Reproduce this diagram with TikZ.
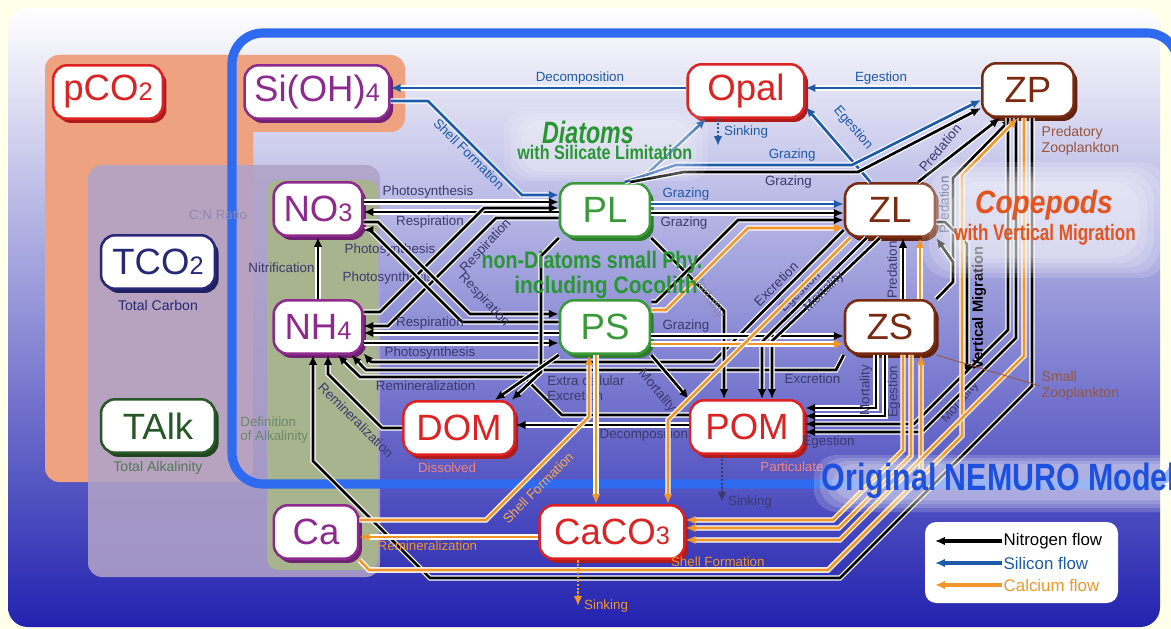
\documentclass[tikz,border=0pt]{standalone}
\usepackage{fontspec}
\setmainfont{Liberation Sans}
\usetikzlibrary{arrows.meta, positioning, calc, shadows}
\usepackage{xcolor}
\definecolor{nmbgyellow}{RGB}{255,255,234}
\definecolor{nmdeep}{RGB}{34,34,176}
\definecolor{nmmid}{RGB}{170,170,226}
\definecolor{nmsalmon}{RGB}{239,162,127}
\definecolor{nmlilac}{RGB}{176,162,200}
\definecolor{nmolive}{RGB}{168,180,142}
\definecolor{nmborder}{RGB}{47,107,240}
\definecolor{nmred}{RGB}{220,34,34}
\definecolor{nmpurple}{RGB}{142,42,142}
\definecolor{nmgreen}{RGB}{58,154,58}
\definecolor{nmbrown}{RGB}{122,42,16}
\definecolor{nmnavy}{RGB}{40,40,120}
\definecolor{nmdkgreen}{RGB}{40,88,40}
\definecolor{nmsi}{RGB}{30,90,170}
\definecolor{nmca}{RGB}{240,150,42}
\definecolor{nmlbl}{RGB}{58,58,108}
\definecolor{nmtitle}{RGB}{30,80,224}
\definecolor{nmcope}{RGB}{228,84,30}
\definecolor{nmdiat}{RGB}{40,150,50}
\newcommand{\lowidx}[1]{{\fontsize{18}{18}\selectfont #1}}
\tikzset{
    pool/.style={draw=#1, line width=1.8pt, fill=white, rounded corners=10pt, text=#1,
                 font=\fontsize{26}{28}\selectfont, minimum height=38pt, inner sep=2pt,
                 drop shadow={shadow xshift=2.6pt, shadow yshift=-3pt, fill=#1!80!black, opacity=1}},
    lbl/.style={font=\fontsize{9.5}{10.5}\selectfont, text=nmlbl, inner sep=1.5pt},
    silbl/.style={lbl, text=nmsi},
    calbl/.style={lbl, text=nmca},
    note/.style={font=\fontsize{10}{11}\selectfont, inner sep=1pt},
    nflow/.style={draw=black, line width=1.9pt, -{Latex[length=7pt, width=6pt]},
                  preaction={draw=white, line width=3.6pt, arrows=-, shorten >=5pt}},
    siflow/.style={nflow, draw=nmsi},
    caflow/.style={nflow, draw=nmca},
    sinkline/.style={line width=1.8pt, densely dotted, -{Latex[length=7pt, width=6pt]}},
    legtxt/.style={font=\fontsize{12}{13}\selectfont, anchor=west, inner sep=1pt},
    bigtxt/.style={inner sep=1pt, font=\bfseries},
}
\begin{document}
\begin{tikzpicture}[x=0.025cm, y=-0.025cm]
    \useasboundingbox (0,0) rectangle (1171,629);
    % background and regions
    \fill[nmbgyellow] (0,0) rectangle (1171,629);
    \shade[top color=white, middle color=nmmid, bottom color=nmdeep, rounded corners=14pt] (8,8) rectangle (1160,627);
    \fill[nmsalmon, rounded corners=10pt] (45,55) rectangle (253,482);
    \fill[nmsalmon, rounded corners=10pt] (45,55) rectangle (405,132);
    \fill[nmlilac, fill opacity=0.88, rounded corners=10pt] (88,165) rectangle (380,577);
    \fill[nmolive, rounded corners=8pt] (267,180) rectangle (378,570);
    \draw[nmborder, line width=6.5pt, rounded corners=22pt] (232,33) rectangle (1178,484);

    % pools
    \node[pool=nmred, minimum width=78pt] (pCO2) at (108,92) {pCO\lowidx{2}};
    \node[pool=nmpurple, minimum width=103pt] (SiOH) at (317,92) {Si(OH)\lowidx{4}};
    \node[pool=nmred, minimum width=83pt] (Opal) at (746,91) {Opal};
    \node[pool=nmbrown, minimum width=65pt] (ZP) at (1028,90) {ZP};
    \node[pool=nmpurple, minimum width=63pt] (NO3) at (318,209) {NO\lowidx{3}};
    \node[pool=nmnavy, minimum width=81pt] (TCO2) at (158,262) {TCO\lowidx{2}};
    \node[pool=nmgreen, minimum width=64pt] (PL) at (605,210) {PL};
    \node[pool=nmbrown, minimum width=64pt] (ZL) at (890,210) {ZL};
    \node[pool=nmpurple, minimum width=63pt] (NH4) at (318,327) {NH\lowidx{4}};
    \node[pool=nmgreen, minimum width=64pt] (PS) at (605,327) {PS};
    \node[pool=nmbrown, minimum width=64pt] (ZS) at (890,327) {ZS};
    \node[pool=nmdkgreen, minimum width=81pt] (TAlk) at (158,426) {TAlk};
    \node[pool=nmred, minimum width=79pt] (DOM) at (459,428) {DOM};
    \node[pool=nmred, minimum width=81pt] (POM) at (747,427) {POM};
    \node[pool=nmpurple, minimum width=60pt] (Ca) at (316,532) {Ca};
    \node[pool=nmred, minimum width=103pt] (CaCO3) at (612,532) {CaCO\lowidx{3}};

    % labels lying under the flows
    \node[lbl] at (390,250) {Photosynthesis};
    \node[lbl] at (388,278) {Photosynthesis};
    \node[lbl, text=nmnavy!55] at (218,215) {C:N Ratio};
    \node[note, text=nmnavy] at (158,305) {Total Carbon};
    \node[note, text=nmdkgreen!80] at (158,468) {Total Alkalinity};
    \node[lbl, text=nmdkgreen!70, align=left, anchor=west] at (238,430) {Definition\\of Alkalinity};
    \node[lbl, text=nmred!55] at (447,468) {Dissolved};
    \node[lbl, text=nmred!55] at (792,467) {Particulate};

    % silicon flows
    \draw[siflow] (Opal.west |- 0,88) -- node[silbl, above, pos=0.36] {Decomposition} (SiOH.east |- 0,88);
    \draw[siflow] (SiOH.east |- 0,101) -- (428,101) -- node[silbl, sloped, below] {Shell Formation} (522,195) -- (PL.west |- 0,195);
    \draw[siflow] (PL.40) -- (Opal.215);
    \coordinate (opalsink) at (718,146);
    \draw[sinkline, nmsi] (Opal.south -| 718,0) -- node[silbl, right=2pt] {Sinking} (opalsink);
    \draw[siflow] (ZP.west |- 0,88) -- node[silbl, above, pos=0.57] {Egestion} (Opal.east |- 0,88);
    \draw[siflow] (ZL.125) -- (Opal.345);
    \node[silbl, rotate=-49] at (853,128) {Egestion};
    \draw[siflow] (PL.east |- 0,204) -- node[silbl, above, pos=0.18] {Grazing} (ZL.west |- 0,204);
    \draw[siflow] (PL.55) -- (676,165) -- node[silbl, above, pos=0.66] {Grazing} (852,165) -- (ZP.west |- 0,100);
    \draw[nflow] (PL.48) -- (684,172) -- node[lbl, below, pos=0.6] {Grazing} (858,172) -- (ZP.west |- 0,108);

    % nitrogen flows
    \draw[nflow] (NH4) -- node[lbl, left] {Nitrification} (NO3);
    \draw[nflow] (NO3.east |- 0,202) -- node[lbl, above, pos=0.33] {Photosynthesis} (PL.west |- 0,202);
    \draw[nflow] (PL.west |- 0,212) -- node[lbl, below, pos=0.66] {Respiration} (NO3.east |- 0,212);
    \draw[nflow] (NH4.east |- 0,312) -- (380,312) -- (484,208) -- (PL.west |- 0,208);
    \draw[nflow] (PL.west |- 0,218) -- (496,218) -- (388,326) -- (NH4.east |- 0,326);
    \draw[nflow] (NO3.east |- 0,222) -- (378,222) -- (470,314) -- (PS.west |- 0,314);
    \draw[nflow] (PS.west |- 0,322) -- (462,322) -- (370,230) -- (NO3.east |- 0,230);
    \node[lbl, rotate=47] at (486,246) {Respiration};
    \node[lbl, rotate=-47] at (484,300) {Respiration};
    \draw[nflow] (PS.west |- 0,333) -- node[lbl, above, pos=0.66] {Respiration} (NH4.east |- 0,333);
    \draw[nflow] (NH4.east |- 0,343) -- node[lbl, below, pos=0.34] {Photosynthesis} (PS.west |- 0,343);
    \draw[nflow] (ZL.west |- 0,230) -- (713,362) -- (371,362) -- (NH4.330);
    \node[lbl, rotate=45] at (776,284) {Excretion};
    \draw[nflow] (ZS.south west) -- (836,370) -- node[lbl, below, pos=0.05] {Excretion} (366,370) -- (NH4.320);
    \draw[nflow] (POM.west |- 0,415) -- (562,415) -- (524,377) -- node[lbl, below, pos=0.6] {Remineralization} (360,377) -- (NH4.305);
    \draw[nflow] (DOM.west) -- (382,428) -- (328,374) -- (NH4.south -| 328,0);
    \node[lbl, rotate=-45] at (356,420) {Remineralization};
    \draw[nflow] (ZP.south -| 1032,0) -- (1032,386) -- (840,578) -- (430,578) -- (313,461) -- (NH4.south -| 313,0);
    \draw[nflow] (PL.south west) -- (541,256) -- (541,372) -- (DOM.28);
    \draw[nflow] (PS.south west) -- (DOM.38);
    \node[lbl, align=left, anchor=west] at (545,388) {Extra cellular\\Excretion};
    \draw[nflow] (PS.south east) -- (POM.north west);
    \node[lbl, rotate=-50] at (657,391) {Mortality};
    \draw[nflow] (PL.south east) -- (724,311) -- (POM.north -| 724,0);
    \node[lbl, rotate=-58, text=nmlbl!60] at (708,296) {Mortality};
    \draw[nflow] (POM.west |- 0,425) -- node[lbl, below, pos=0.26] {Decomposition} (DOM.east |- 0,425);
    \coordinate (pomsink) at (722,502);
    \draw[sinkline, nmlbl] (POM.south -| 722,0) -- (pomsink) node[lbl, right=2pt] {Sinking};
    \draw[nflow] (PS.east |- 0,336) -- node[lbl, above, pos=0.18] {Grazing} (ZS.west |- 0,336);
    \draw[nflow] (PL.east |- 0,213) -- node[lbl, below, pos=0.17] {Grazing} (ZL.west |- 0,213);
    \draw[nflow] (PS.east |- 0,302) -- (656,302) -- (738,220) -- (ZL.west |- 0,220);
    \draw[nflow] ($(ZS.north)+(13,0)$) -- ($(ZL.south)+(13,0)$);
    \node[lbl, rotate=90] at (892,270) {Predation};
    \draw[nflow] (ZL.45) -- (ZP.225);
    \node[lbl, rotate=50] at (940,148) {Predation};
    \draw[nflow] (ZS.north east) -- (953,282) -- (953,178) -- (ZP.240);
    \node[lbl, rotate=90] at (944,205) {Predation};
    \draw[nflow] (ZL.230) -- (762,342) -- (POM.north -| 762,0);
    \draw[nflow] (ZL.250) -- (772,341) -- (POM.north -| 772,0);
    \node[lbl, rotate=45] at (800,292) {Egestion};
    \node[lbl, rotate=45] at (824,292) {Mortality};
    \draw[nflow] ($(ZS.south)+(-14,0)$) -- (876,408) -- (POM.east |- 0,408);
    \draw[nflow] ($(ZS.south)+(-5,0)$) -- (885,416) -- (POM.east |- 0,416);
    \node[lbl, rotate=90] at (866,390) {Mortality};
    \node[lbl, rotate=90] at (894,392) {Egestion};
    \draw[nflow] (ZP.south -| 1008,0) -- (1008,330) -- (914,424) -- (POM.east |- 0,424);
    \node[lbl, rotate=50] at (960,402) {Mortality};
    \draw[nflow] (ZP.south -| 1016,0) -- (1016,338) -- (922,432) -- node[lbl, below, pos=0.8] {Egestion} (POM.east |- 0,432);
    % vertical migration
    \coordinate (vmdown) at (967,374);
    \draw[nflow] (ZL.east |- 0,222) -- (945,222) -- (967,244) -- (vmdown);
    \draw[nflow] (ZS.north east) -- (953,282) -- (953,262) -- (ZL.south east);
    \node[bigtxt, font=\fontsize{10.5}{11}\selectfont\bfseries, rotate=90] at (979,308) {Vertical Migration};

    % calcium flows
    \draw[caflow] (PS.east |- 0,344) -- (ZS.west |- 0,344);
    \draw[caflow] (PS.east |- 0,310) -- (666,310) -- (748,228) -- (ZL.west |- 0,228);
    \draw[caflow] ($(ZS.north)+(30,0)$) -- ($(ZL.south)+(30,0)$);
    \draw[caflow] (PS.south -| 596,0) -- (CaCO3.north -| 596,0);
    \draw[caflow] (ZL.215) -- (668,420) -- (CaCO3.north -| 668,0);
    \draw[caflow] (Ca.east |- 0,520) -- (486,520) -- (589,417) -- (PS.south -| 589,0);
    \node[calbl, rotate=45, text=nmca!80] at (538,488) {Shell Formation};
    \draw[caflow] (CaCO3.west |- 0,537) -- node[calbl, below, pos=0.62] {Remineralization} (Ca.east |- 0,537);
    \draw[caflow] (Ca.south east) -- (369,570) -- node[calbl, above, pos=0.76] {Shell Formation} (828,570) -- (921,477) -- (ZS.south -| 921,0);
    \draw[caflow] (Ca.south east) -- (369,570) -- (828,570) -- (962,436) -- (962,175) -- (ZP.250);
    \draw[caflow] (ZS.south -| 903,0) -- (903,450) -- (833,520) -- (CaCO3.east |- 0,520);
    \draw[caflow] (ZS.south -| 911,0) -- (911,456) -- (839,528) -- (CaCO3.east |- 0,528);
    \draw[caflow] (ZP.south -| 1024,0) -- (1024,356) -- (840,540) -- (CaCO3.east |- 0,540);
    \coordinate (calsink) at (578,606);
    \draw[sinkline, nmca] (CaCO3.south -| 578,0) -- (calsink) node[calbl, right=2pt] {Sinking};

    % zooplankton notes
    \node[note, text=nmbrown!80, align=left, anchor=west] (predzoo) at (1040,141) {Predatory\\Zooplankton};
    \node[note, text=nmbrown!80, align=left, anchor=west] (smallzoo) at (1040,386) {Small\\Zooplankton};
    \draw[nmbrown!80, line width=0.6pt] (ZS.south east) -- (smallzoo.west);

    % group captions
    \foreach \g in {0,...,3}
        \fill[white, fill opacity=0.12, rounded corners=14pt] ({522-\g*6},{120-\g*3}) rectangle ({690+\g*6},{172+\g*3});
    \node[bigtxt, text=nmdiat] (diatA) at (588,132) {\fontsize{22}{22}\selectfont\bfseries\itshape\scalebox{0.75}[1]{Diatoms}};
    \node[bigtxt, text=nmdiat, below=-1pt of diatA.south, anchor=north, xshift=12pt] (diatB) {\fontsize{14}{15}\selectfont\scalebox{0.82}[1]{with Silicate Limitation}};
    \node[bigtxt, text=nmdiat] (smallA) at (592,262) {\fontsize{17}{18}\selectfont\scalebox{0.82}[1]{non-Diatoms small Phy.}};
    \node[bigtxt, text=nmdiat] (smallB) at (606,287) {\fontsize{17}{18}\selectfont\scalebox{0.88}[1]{including Cocolith}};
    \foreach \g in {0,...,4}
        \fill[white, fill opacity=0.16, rounded corners=20pt] ({950-\g*7},{182-\g*5}) rectangle ({1140+\g*7},{258+\g*5});
    \node[bigtxt, text=nmcope] (copeA) at (1044,205) {\fontsize{23}{24}\selectfont\bfseries\itshape\scalebox{0.87}[1]{Copepods}};
    \node[bigtxt, text=nmcope] (copeB) at (1045,235) {\fontsize{16}{17}\selectfont\scalebox{0.76}[1]{with Vertical Migration}};
    \foreach \g in {0,...,3}
        \fill[white, fill opacity=0.17, rounded corners=16pt] ({832-\g*6},{464-\g*3}) rectangle ({1180},{500+\g*4});
    \node[bigtxt, text=nmtitle, anchor=west] (title) at (820,481) {\fontsize{27}{28}\selectfont\scalebox{0.8}[1]{Original NEMURO Model}};

    % legend
    \fill[white, rounded corners=8pt] (925,522) rectangle (1118,603);
    \node[legtxt] (lgN) at (1002,541) {Nitrogen flow};
    \node[legtxt, text=nmsi] (lgS) at (1002,563) {Silicon flow};
    \node[legtxt, text=nmca] (lgC) at (1002,585) {Calcium flow};
    \coordinate (lgNend) at (935,541);
    \coordinate (lgSend) at (935,563);
    \coordinate (lgCend) at (935,585);
    \draw[nflow, line width=2.2pt] (lgN.west) -- (lgNend);
    \draw[siflow, line width=2.2pt] (lgS.west) -- (lgSend);
    \draw[caflow, line width=2.2pt] (lgC.west) -- (lgCend);
\end{tikzpicture}
\end{document}
